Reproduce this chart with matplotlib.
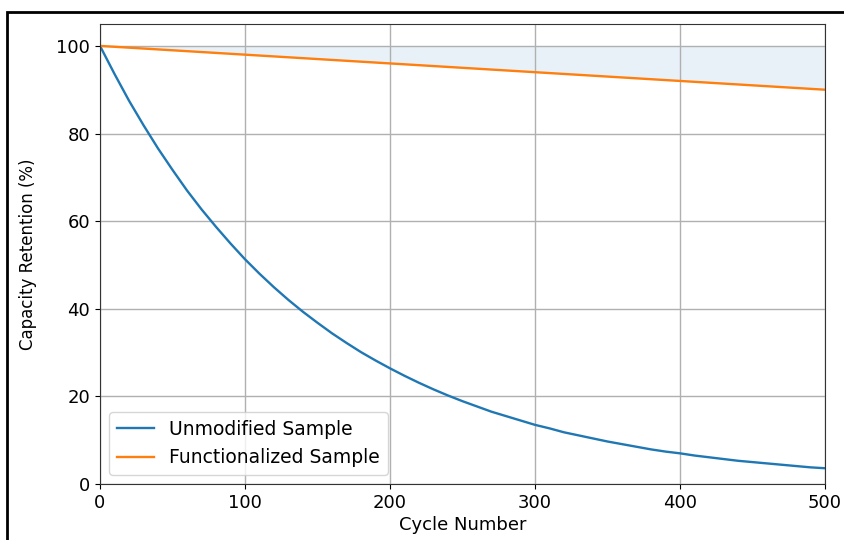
import matplotlib.pyplot as plt
from matplotlib.patches import Rectangle

# cycle numbers and capacity retention (%)
cycles = list(range(0, 501, 10))
unmodified = [100.0, 93.6, 87.5, 81.9, 76.6, 71.7, 67.0, 62.7, 58.7, 54.9,
              51.3, 48.0, 44.9, 42.0, 39.3, 36.8, 34.4, 32.2, 30.1, 28.2,
              26.4, 24.7, 23.1, 21.6, 20.2, 18.9, 17.7, 16.5, 15.5, 14.5,
              13.5, 12.7, 11.8, 11.1, 10.4, 9.7, 9.1, 8.5, 7.9, 7.4,
              7.0, 6.5, 6.1, 5.7, 5.3, 5.0, 4.7, 4.4, 4.1, 3.8, 3.6]
functionalized = [100.0, 99.8, 99.6, 99.4, 99.2, 99.0, 98.8, 98.6, 98.4, 98.2,
                  98.0, 97.8, 97.6, 97.4, 97.2, 97.0, 96.8, 96.6, 96.4, 96.2,
                  96.0, 95.8, 95.6, 95.4, 95.2, 95.0, 94.8, 94.6, 94.4, 94.2,
                  94.0, 93.8, 93.6, 93.4, 93.2, 93.0, 92.8, 92.6, 92.4, 92.2,
                  92.0, 91.8, 91.6, 91.4, 91.2, 91.0, 90.8, 90.6, 90.4, 90.2, 90.0]

fig = plt.figure(figsize=(8.45, 5.4), dpi=100)
ax = fig.add_axes([100 / 845, 1 - 484 / 540, 725 / 845, 460 / 540])

ax.plot(cycles, unmodified, color="C0", lw=1.7, label="Unmodified Sample")
ax.plot(cycles, functionalized, color="C1", lw=1.7, label="Functionalized Sample")
ax.fill_between(cycles, functionalized, 100, color="C0", alpha=0.1, lw=0)

ax.set_xlim(0, 500)
ax.set_ylim(0, 105)
ax.set_xticks([0, 100, 200, 300, 400, 500])
ax.set_yticks([0, 20, 40, 60, 80, 100])
ax.tick_params(labelsize=13)
ax.grid(True, color="#b0b0b0", lw=1)
for s in ax.spines.values():
    s.set_color("#333333")
ax.set_xlabel("Cycle Number", fontsize=13, labelpad=3)
ax.set_ylabel("Capacity Retention (%)", fontsize=12, labelpad=14)
ax.legend(loc="lower left", fontsize=13.5)

# black frame around the figure (cropped at right and bottom)
fig.patches.append(Rectangle((7 / 845, -0.1), 1.2, 1 - 12 / 540 + 0.1,
                             transform=fig.transFigure, fill=False,
                             edgecolor="black", lw=2))

fig.savefig("out.png", dpi=100)
